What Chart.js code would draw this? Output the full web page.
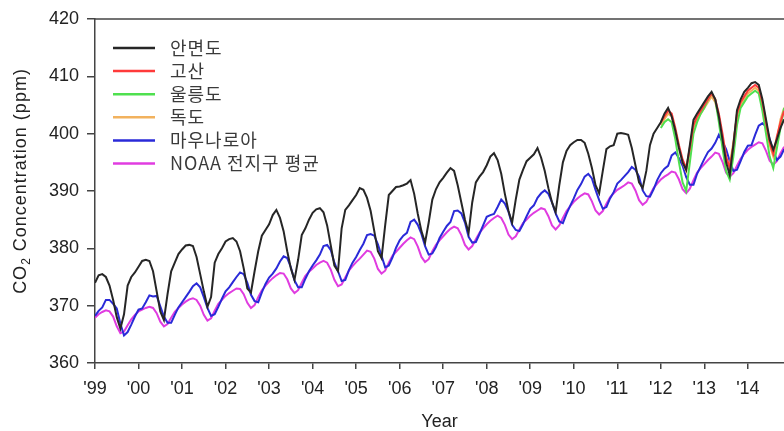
<!DOCTYPE html>
<html>
<head>
<meta charset="utf-8">
<script src="https://cdn.jsdelivr.net/npm/chart.js@4"></script>
<style>
body{margin:0;background:#fff}
#grafico{display:block}
</style>
</head>
<body>
<canvas id="grafico" width="784" height="431"></canvas>
<script>

// monthly values, first value = January of the start year
const anmyeondoStart = 1999
const anmyeondo = [
374.0,375.3,375.5,375.0,373.5,371.0,368.0,366.0,368.5,373.5,375.0,375.8,
376.8,377.8,378.0,377.8,376.0,372.5,369.0,367.5,372.0,376.0,377.5,379.0,
379.8,380.5,380.6,380.4,378.5,375.5,372.5,369.8,371.5,377.5,379.0,380.0,
381.2,381.6,381.8,381.2,379.5,376.5,373.0,372.3,376.0,379.5,382.2,383.2,
384.2,385.8,386.7,385.3,383.0,379.5,376.5,374.5,378.0,382.3,383.5,385.0,
386.2,386.8,387.0,386.3,384.0,380.5,377.0,376.0,383.5,386.7,387.5,388.4,
389.3,390.5,390.2,388.8,386.5,383.0,379.5,378.3,384.0,389.3,390.0,390.7,
390.8,391.0,391.3,391.9,389.5,386.0,383.0,381.0,384.5,388.5,390.3,391.5,
392.3,393.2,394.0,393.5,391.0,388.0,385.0,382.7,388.0,391.5,392.5,393.3,
394.5,396.0,396.6,395.4,393.0,389.5,386.5,384.5,388.5,392.0,393.7,395.2,
395.8,396.4,397.5,395.8,393.5,390.5,388.0,386.3,391.0,395.0,397.0,398.0,
398.5,398.9,398.9,398.4,396.5,394.0,391.0,389.6,393.5,397.3,397.8,398.0,
400.0,400.1,400.0,399.8,397.5,394.5,391.5,390.5,393.5,398.0,400.0,401.0,
402.0,403.5,404.5,403.0,400.5,397.5,395.0,393.7,398.0,402.4,403.5,404.5,
405.5,406.5,407.3,406.0,403.0,399.0,395.0,392.8,398.0,404.1,406.0,407.3,
408.0,408.8,409.0,408.5,406.0,402.5,399.0,397.2,399.0,401.0,402.5,404.0
]

const gosanStart = 2012
const gosan = [
402.0,403.0,404.0,403.5,401.0,398.0,395.5,394.0,397.5,401.5,403.0,404.0,
405.0,406.0,407.0,406.0,403.5,400.0,396.0,394.0,398.0,403.5,405.5,406.5,
407.5,408.0,408.5,408.0,405.5,402.0,398.5,396.5,399.5,402.0,404.0,405.5
]

const ulleungdoStart = 2012
const ulleungdo = [
401.0,402.0,402.5,402.0,399.0,395.0,391.5,390.0,395.0,400.0,402.0,403.5,
404.5,406.0,407.0,406.0,402.0,397.5,393.5,392.0,396.0,401.5,404.5,405.5,
406.5,407.0,407.5,407.0,404.0,400.0,396.0,394.0,397.5,401.0,404.5,406.0
]

const dokdoStart = 2012
const dokdo = [
401.5,402.5,403.5,403.0,400.5,397.5,395.0,393.5,397.0,401.0,402.5,403.5,
404.5,405.5,406.5,405.5,403.0,399.0,395.5,394.5,398.5,403.0,405.0,406.0,
407.0,407.5,408.0,407.5,405.0,401.5,398.0,396.0,399.0,402.5,404.5,406.0
]

const maunaloaStart = 1999
const maunaloa = [
368.2,369.1,369.7,371.0,371.0,370.3,369.5,366.9,364.8,365.4,366.7,368.1,
369.3,369.5,370.6,371.8,371.6,371.7,369.9,368.1,367.0,367.0,368.4,369.7,
370.6,371.5,372.4,373.4,373.9,373.2,371.5,369.6,368.2,368.5,369.8,371.2,
372.5,373.2,374.1,375.0,375.8,375.5,374.0,371.9,370.8,370.6,372.3,373.8,
374.9,375.6,376.5,377.7,378.6,378.3,376.7,374.4,373.2,373.2,374.7,376.0,
377.0,377.9,378.9,380.4,380.6,379.7,377.5,376.0,374.3,374.5,376.2,377.5,
378.5,379.7,380.8,382.3,382.5,382.2,380.7,378.7,376.7,377.0,378.4,380.1,
381.4,382.2,382.7,384.6,385.0,384.1,382.5,380.4,378.9,379.1,380.2,381.8,
382.9,383.9,384.6,386.5,386.6,386.1,384.5,382.0,381.0,381.1,382.5,384.0,
385.5,385.8,386.0,387.2,388.5,387.8,386.4,384.1,383.2,383.0,384.2,385.6,
386.9,387.5,388.8,389.6,390.1,389.5,388.0,386.1,384.7,384.4,386.0,387.4,
388.7,390.2,391.2,392.5,393.0,392.2,390.2,388.4,386.9,387.2,388.7,389.8,
391.3,391.9,392.6,393.3,394.2,393.7,392.5,390.1,389.1,389.0,390.3,391.9,
393.1,393.9,394.4,396.2,396.7,395.7,394.4,392.4,391.1,391.1,393.0,394.3,
395.6,396.8,397.4,398.4,399.8,398.6,397.3,395.2,393.5,393.7,395.2,396.8,
397.9,398.0,399.8,401.4,401.8,401.3,399.1,397.0,395.4,396.0,397.3,398.9
]

const noaaStart = 1999
const noaa = [
367.9,368.5,368.9,369.2,369.0,368.1,366.4,365.2,365.5,366.6,367.6,368.4,
369.0,369.3,369.6,369.8,369.6,368.7,367.2,366.4,366.8,367.9,368.9,369.6,
370.2,370.7,371.1,371.3,371.0,370.0,368.4,367.4,367.8,369.1,370.3,371.0,
371.7,372.2,372.6,373.0,372.9,372.0,370.5,369.6,370.1,371.5,372.7,373.5,
374.2,374.8,375.3,375.7,375.6,374.6,373.0,372.2,372.7,374.0,375.2,375.9,
376.5,377.1,377.5,377.8,377.5,376.3,374.5,373.4,373.7,374.9,376.1,376.9,
377.6,378.2,378.9,379.6,379.4,378.2,376.4,375.6,376.1,377.5,378.7,379.4,
380.1,380.8,381.4,381.9,381.6,380.3,378.5,377.6,378.1,379.5,380.6,381.4,
382.1,382.8,383.4,383.8,383.5,382.3,380.6,379.8,380.4,381.6,382.7,383.5,
384.2,384.8,385.3,385.7,385.3,384.1,382.4,381.6,382.1,383.3,384.4,385.0,
385.7,386.2,386.6,387.0,386.8,385.6,384.0,383.3,384.0,385.3,386.5,387.3,
388.1,388.7,389.2,389.6,389.4,388.2,386.6,385.9,386.5,387.8,388.9,389.6,
390.2,390.6,391.0,391.5,391.3,390.1,388.4,387.6,388.1,389.3,390.5,391.3,
392.0,392.5,392.9,393.4,393.2,392.0,390.3,389.6,390.4,391.9,393.2,394.0,
394.7,395.4,396.0,396.7,396.5,395.1,393.2,392.5,393.1,394.4,395.6,396.5,
397.2,397.7,398.1,398.5,398.3,397.0,395.3,394.6,395.2,396.6,397.7,398.5
]

const anoInicio = 1999
const anoFim = 2014.83
const yMin = 360
const yMax = 420

function pontos(inicio, valores){
return valores.map((v, i) => ({x: inicio + i / 12, y: v}))
}

function serie(label, inicio, valores, cor){
return {
label: label,
data: pontos(inicio, valores),
borderColor: cor,
backgroundColor: cor,
borderWidth: 2,
pointRadius: 0,
tension: 0
}
}

// legend and y title drawn by hand, the legend sits inside the plot
const extras = {
id: "extras",
afterDraw(chart){
const ctx = chart.ctx
const area = chart.chartArea
ctx.save()

ctx.strokeStyle = "#444"
ctx.lineWidth = 1.5
ctx.beginPath()
ctx.moveTo(area.left, area.top)
ctx.lineTo(area.right, area.top)
ctx.stroke()

ctx.textBaseline = "middle"
ctx.textAlign = "left"
ctx.font = '18px "Noto Sans CJK KR", sans-serif'
ctx.letterSpacing = "1px"
chart.data.datasets.forEach((ds, i) => {
let y = 48 + i * 23.1
ctx.strokeStyle = ds.borderColor
ctx.lineWidth = 2.5
ctx.beginPath()
ctx.moveTo(113, y)
ctx.lineTo(155, y)
ctx.stroke()
ctx.fillStyle = "#3a3a3a"
ctx.fillText(ds.label, 170, y)
})

ctx.translate(21, 181)
ctx.rotate(-Math.PI / 2)
ctx.fillStyle = "#222"
let a = "CO"
let b = " Concentration (ppm)"
ctx.font = '18px "Liberation Sans", Arial, sans-serif'
let wa = ctx.measureText(a).width
let wb = ctx.measureText(b).width
ctx.font = '12px "Liberation Sans", Arial, sans-serif'
let w2 = ctx.measureText("2").width
let x0 = -(wa + w2 + wb) / 2
ctx.font = '18px "Liberation Sans", Arial, sans-serif'
ctx.fillText(a, x0, 0)
ctx.font = '12px "Liberation Sans", Arial, sans-serif'
ctx.fillText("2", x0 + wa, 6)
ctx.font = '18px "Liberation Sans", Arial, sans-serif'
ctx.fillText(b, x0 + wa + w2, 0)
ctx.restore()
}
}

const ctx = document.getElementById("grafico").getContext("2d")

const grafico = new Chart(ctx, {
type: "line",
data: {
datasets: [
serie("안면도", anmyeondoStart, anmyeondo, "#262626"),
serie("고산", gosanStart, gosan, "#ff3a3a"),
serie("울릉도", ulleungdoStart, ulleungdo, "#4fe04f"),
serie("독도", dokdoStart, dokdo, "#f2b25e"),
serie("마우나로아", maunaloaStart, maunaloa, "#2a2ad8"),
serie("NOAA 전지구 평균", noaaStart, noaa, "#e03ce0")
]
},
options: {
responsive: false,
animation: false,
devicePixelRatio: 1,
layout: {padding: {top: 19, right: 0, bottom: 0, left: 0}},
plugins: {
legend: {display: false},
tooltip: {enabled: false}
},
scales: {
x: {
type: "linear",
min: anoInicio,
max: anoFim,
afterFit: s => { s.height = 68 },
ticks: {
stepSize: 1,
includeBounds: false,
autoSkip: false,
maxRotation: 0,
padding: 9,
color: "#222",
font: {family: '"Liberation Sans", Arial, sans-serif', size: 18},
callback: v => "'" + String(Math.round(v) % 100).padStart(2, "0")
},
grid: {drawOnChartArea: false, drawTicks: true, tickLength: 6, color: "#444", lineWidth: 1.5},
border: {display: true, color: "#444", width: 1.5},
title: {
display: true,
text: "Year",
color: "#222",
font: {family: '"Liberation Sans", Arial, sans-serif', size: 18, lineHeight: 1},
padding: {top: 0, bottom: 0}
}
},
y: {
min: yMin,
max: yMax,
afterFit: s => { s.width = 95 },
ticks: {
stepSize: 10,
padding: 8,
color: "#222",
font: {family: '"Liberation Sans", Arial, sans-serif', size: 18}
},
grid: {drawOnChartArea: false, drawTicks: true, tickLength: 8, color: "#444", lineWidth: 1.5},
border: {display: true, color: "#444", width: 1.5}
}
}
},
plugins: [extras]
})

</script>
</body>
</html>
